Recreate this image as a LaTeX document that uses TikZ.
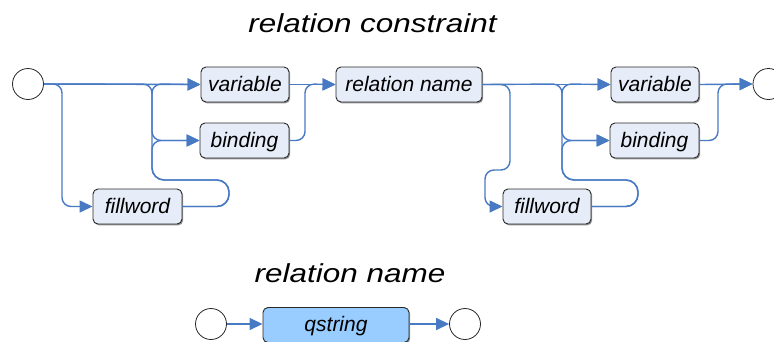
\documentclass[tikz,border=0pt]{standalone}
\usepackage{fontspec}
\setmainfont{Liberation Sans}
\newfontfamily\titlefont[FakeStretch=1.21]{Liberation Sans}
\usetikzlibrary{arrows.meta,shadows}

\definecolor{flow}{RGB}{72,122,196}
\definecolor{boxfill}{RGB}{230,237,248}
\definecolor{termfill}{RGB}{153,204,255}
\definecolor{boxline}{RGB}{40,40,40}

\tikzset{
  syntaxbox/.style={draw=boxline, line width=0.9pt, fill=boxfill,
    rounded corners=5pt, minimum height=35pt, inner sep=0pt,
    text height=16pt, text depth=3pt,
    font=\fontsize{21}{21}\selectfont\itshape,
    drop shadow={shadow xshift=1.2pt, shadow yshift=-1.4pt, fill=black!60, opacity=0.7}},
  termbox/.style={syntaxbox, fill=termfill},
  endpoint/.style={circle, draw=black!85, line width=0.8pt, fill=white,
    minimum size=31pt, inner sep=0pt},
  heading/.style={anchor=base, inner sep=0pt,
    font=\titlefont\fontsize{26}{26}\selectfont\itshape},
  link/.style={draw=flow, line width=1.4pt, rounded corners=9pt},
  flowarrow/.style={link, -{Triangle[length=13pt,width=12pt]}}
}

\begin{document}
\begin{tikzpicture}[x=1pt, y=-1pt]
\useasboundingbox (0,0) rectangle (774,341);

% ---------- relation constraint ----------
\node[heading] (t1) at (372.5,32) {relation constraint};

\node[endpoint] (s1) at (28,84) {};
\node[syntaxbox, minimum width=88pt] (v1) at (245,84.5) {variable};
\node[syntaxbox, minimum width=89pt] (b1) at (244.5,140.5) {binding};
\node[syntaxbox, minimum width=89pt] (f1) at (137.5,206.5) {fillword};
\node[syntaxbox, minimum width=146pt] (rn) at (409,84.5) {relation name};
\node[syntaxbox, minimum width=88pt] (v2) at (655,84.5) {variable};
\node[syntaxbox, minimum width=89pt] (b2) at (654.5,140.5) {binding};
\node[syntaxbox, minimum width=88pt] (f2) at (547,206.5) {fillword};
\node[endpoint] (e1) at (768.5,84) {};

% junction columns and loop turns
\coordinate (ja) at (62,84);
\coordinate (jb) at (152,84);
\coordinate (jc) at (229,180);
\coordinate (jd) at (305,84);
\coordinate (je) at (510,170);
\coordinate (jf) at (485,170);
\coordinate (jg) at (562,84);
\coordinate (jh) at (638,180);
\coordinate (ji) at (718,84);

% first group: variable / binding, optionally preceded by fillword
\draw[flowarrow] (s1.east) -- (v1.west);
\draw[flowarrow] (s1.east) -- (ja) -- (ja |- f1.west) -- (f1.west);
\draw[flowarrow] (s1.east) -- (jb) -- (jb |- b1.west) -- (b1.west);
\draw[flowarrow, rounded corners=12pt] (f1.east) -- (jc |- f1.east) -- (jc) -- (jb |- jc) [rounded corners=9pt] -- (jb) -- (v1.west);
\draw[flowarrow, rounded corners=12pt] (f1.east) -- (jc |- f1.east) -- (jc) -- (jb |- jc) [rounded corners=9pt] -- (jb |- b1.west) -- (b1.west);

% into the relation name
\draw[flowarrow] (v1.east) -- (rn.west);
\draw[flowarrow] (b1.east) -- (jd |- b1.east) -- (jd) -- (rn.west);

% second group
\draw[flowarrow] (rn.east) -- (v2.west);
\draw[flowarrow] (rn.east) -- (je |- rn.east) -- (je) -- (jf) -- (jf |- f2.west) -- (f2.west);
\draw[flowarrow] (rn.east) -- (jg) -- (jg |- b2.west) -- (b2.west);
\draw[flowarrow, rounded corners=12pt] (f2.east) -- (jh |- f2.east) -- (jh) -- (jg |- jh) [rounded corners=9pt] -- (jg) -- (v2.west);
\draw[flowarrow, rounded corners=12pt] (f2.east) -- (jh |- f2.east) -- (jh) -- (jg |- jh) [rounded corners=9pt] -- (jg |- b2.west) -- (b2.west);

% to the end
\draw[flowarrow] (v2.east) -- (e1.west);
\draw[flowarrow] (b2.east) -- (ji |- b2.east) -- (ji) -- (e1.west);

% ---------- relation name ----------
\node[heading] (t2) at (350,282) {relation name};

\node[endpoint] (s2) at (211,324) {};
\node[termbox, minimum width=146pt] (q) at (336,325) {qstring};
\node[endpoint] (e2) at (465,324) {};

\draw[flowarrow] (s2.east) -- (s2.east -| q.west);
\draw[flowarrow] (q.east |- e2.west) -- (e2.west);
\end{tikzpicture}
\end{document}
